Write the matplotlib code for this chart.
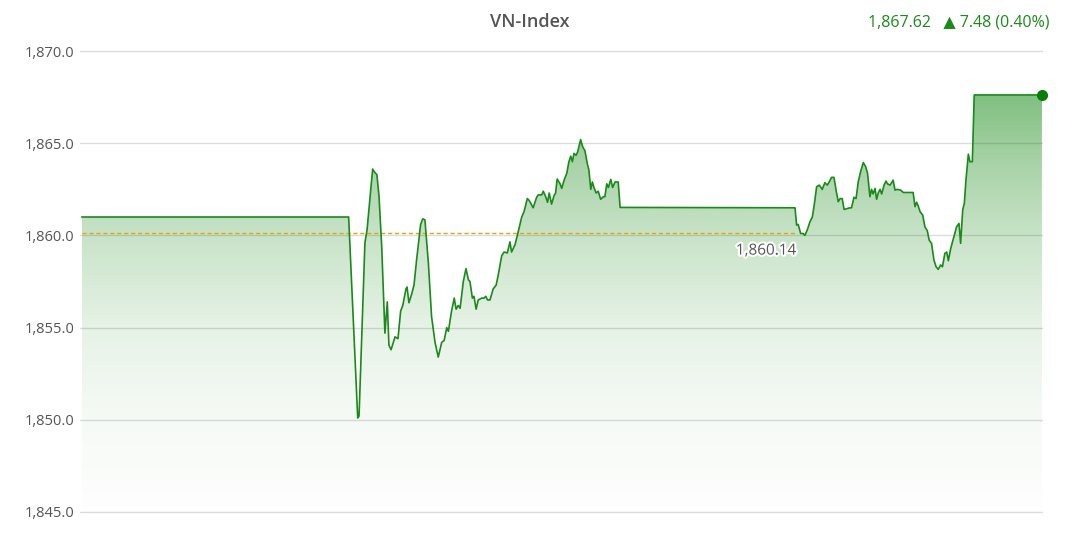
import numpy as np
import matplotlib
matplotlib.use("Agg")
from matplotlib import pyplot as plt
from matplotlib import patheffects

plt.rcParams['font.family'] = ['Open Sans', 'DejaVu Sans']

# minutes into the session (x) and index level (y)
minutes = [0, 100, 103.4, 103.9, 106.1, 106.9, 109.0, 109.9, 110.6, 111.4, 112.4,
           113.6, 114.5, 115.1, 115.9, 117.4, 118.5, 119.5, 120.3, 121.5, 121.9,
           122.6, 123.6, 124.5, 125.5, 127.0, 127.8, 128.6, 129.9, 131.1, 132.4,
           133.6, 134.9, 135.8, 136.8, 137.4, 138.6, 139.6, 140.3, 141.1, 141.8,
           143.0, 144.0, 144.9, 145.5, 146.4, 147.0, 147.8, 148.6, 149.9, 150.8,
           151.4, 152.1, 153.0, 154.2, 155.3, 156.1, 157.4, 158.3, 159.5, 160.5,
           161.1, 162.4, 163.6, 164.9, 165.8, 167.0, 167.7, 169.2, 170.5, 171.1,
           172.4, 173.0, 173.9, 174.6, 175.2, 176.1, 177.0, 177.6, 178.2, 179.3,
           179.9, 180.8, 181.8, 182.6, 183.3, 183.9, 184.5, 185.3, 185.9, 187.0,
           187.8, 188.6, 189.5, 190.1, 190.8, 191.4, 192.0, 192.8, 193.6, 194.5,
           195.5, 196.1, 196.8, 197.4, 198.3, 199.0, 199.9, 201.1, 201.8,
           267.4, 268.0, 268.6, 269.5, 270.5, 271.1, 272.0, 273.0, 273.9, 274.6,
           275.5, 276.5, 277.6, 278.6, 279.5, 280.2, 281.1, 282.0, 282.8, 283.6,
           284.3, 285.1, 285.8, 286.8, 288.0, 288.6, 289.5, 290.3, 291.1, 292.0,
           293.0, 293.9, 294.6, 295.5, 296.1, 296.7, 297.4, 298.0, 298.6, 299.3,
           299.9, 300.8, 301.5, 302.1, 303.0, 303.6, 304.2, 304.9, 305.7, 307.0,
           308.0, 311.7, 312.4, 313.0, 313.6, 314.3, 315.3, 316.1, 317.0, 317.7,
           318.6, 319.5, 320.3, 321.1, 322.0, 322.7, 323.6, 324.3, 324.9, 325.8,
           326.8, 328.0, 328.9, 329.5, 330.3, 330.9, 331.5, 332.4, 333.0, 333.9,
           334.6, 360]
index = [1861.0, 1861.0, 1850.1, 1850.2, 1859.6, 1860.3, 1863.6, 1863.4, 1863.3, 1862.1, 1859.4,
         1854.7, 1856.4, 1854.05, 1853.8, 1854.5, 1854.4, 1855.9, 1856.2, 1857.1, 1857.2,
         1856.35, 1856.8, 1857.3, 1858.7, 1860.6, 1860.9, 1860.85, 1858.5, 1855.6, 1854.2,
         1853.4, 1854.2, 1854.3, 1855.0, 1854.8, 1855.9, 1856.6, 1856.0, 1856.2, 1856.05,
         1857.5, 1858.2, 1857.6, 1857.5, 1856.6, 1856.7, 1856.0, 1856.5, 1856.6, 1856.6,
         1856.7, 1856.5, 1856.5, 1857.1, 1857.3, 1857.85, 1858.9, 1859.1, 1859.05, 1859.65,
         1859.1, 1859.5, 1860.2, 1861.0, 1861.3, 1862.0, 1861.9, 1861.5, 1862.07, 1862.2,
         1862.2, 1862.4, 1862.1, 1861.8, 1862.3, 1861.7, 1862.15, 1862.3, 1863.06, 1862.8,
         1862.55, 1863.0, 1863.37, 1864.0, 1864.3, 1864.0, 1864.45, 1864.35, 1864.54, 1865.2,
         1864.8, 1864.6, 1863.9, 1863.55, 1862.5, 1862.9, 1862.6, 1862.3, 1862.4, 1861.96,
         1862.1, 1862.1, 1862.8, 1862.6, 1863.04, 1862.6, 1862.9, 1862.9, 1861.52,
         1861.5, 1860.56, 1860.6, 1860.11, 1860.1, 1860.0, 1860.3, 1860.74, 1861.0, 1861.65,
         1862.64, 1862.73, 1862.5, 1862.86, 1862.73, 1862.9, 1863.15, 1863.15, 1862.46, 1861.83,
         1862.0, 1862.0, 1861.41, 1861.45, 1861.5, 1861.5, 1862.07, 1862.0, 1862.9, 1863.46,
         1863.95, 1863.73, 1863.37, 1862.1, 1862.5, 1862.25, 1862.55, 1861.96, 1862.3, 1862.5,
         1862.25, 1862.73, 1862.95, 1862.8, 1862.73, 1862.85, 1863.0, 1862.46, 1862.5, 1862.46,
         1862.33, 1862.33, 1861.56, 1861.8, 1861.6, 1861.29, 1861.1, 1860.47, 1860.26, 1859.75,
         1859.57, 1858.67, 1858.3, 1858.16, 1858.4, 1858.3, 1859.03, 1859.1, 1858.63, 1859.3,
         1859.84, 1860.47, 1860.65, 1859.57, 1861.4, 1861.74, 1863.0, 1864.41, 1864.0, 1864.0,
         1867.62, 1867.62]

ref_close = 1860.14
ref_end = 267.5
yticks = [1845, 1850, 1855, 1860, 1865, 1870]
ylabels = ["1,845.0", "1,850.0", "1,855.0", "1,860.0", "1,865.0", "1,870.0"]

green = "#1a8a1a"

fig = plt.figure(figsize=(10.68, 5.33), dpi=100)
ax = fig.add_axes([80 / 1068, 0, 963 / 1068, 1])
ax.set_xlim(-0.75, 360.4)
ax.set_ylim(1843.86, 1872.77)

for s in ax.spines.values():
    s.set_visible(False)
ax.set_xticks([])
ax.set_yticks(yticks)
ax.set_yticklabels(ylabels)
ax.tick_params(axis='y', length=0, pad=4, labelsize=10.5, labelcolor="#555555")
ax.grid(axis='y', color="#dcdcdc", linewidth=1)
ax.set_axisbelow(True)

# gradient fill under the line (fades faster near the bottom)
lo, hi = 1844.5, max(index)
ys = np.linspace(hi, lo, 256)
alpha = np.interp(ys, [1844.5, 1846, 1850, 1855, 1860, 1864, 1867.62],
                  [0.0, 0.015, 0.04, 0.10, 0.22, 0.35, 0.5])
grad = np.zeros((256, 2, 4))
grad[..., 1] = 0.5
grad[..., 3] = alpha[:, None]
im = ax.imshow(grad, extent=[minutes[0], minutes[-1], lo, hi], aspect='auto',
               origin='upper', zorder=1)
poly = ax.fill_between(minutes, index, 1843, color='none')
im.set_clip_path(poly.get_paths()[0], transform=ax.transData)

ax.plot(minutes, index, color=green, linewidth=1.2, zorder=3)
ax.plot(minutes[-1], index[-1], 'o', color="#0a7d0a", markersize=7, zorder=4,
        clip_on=False)

ax.plot([0, ref_end], [ref_close, ref_close], color="#f0a000", linewidth=1,
        linestyle=(0, (3, 2)), zorder=2)
ax.text(256.5, 1859.15, "1,860.14", ha='center', va='center', fontsize=11,
        color="#555555", zorder=5,
        path_effects=[patheffects.withStroke(linewidth=3, foreground="white")])

fig.text(530 / 1068, 1 - 22 / 533, "VN-Index", ha='center', va='center',
         fontsize=13, color="#555555", fontweight='semibold')
fig.text(1050 / 1068, 1 - 22 / 533, "1,867.62   \u25B2 7.48 (0.40%)", ha='right',
         va='center', fontsize=11.5, color=green)

fig.savefig("out.png", dpi=100)
